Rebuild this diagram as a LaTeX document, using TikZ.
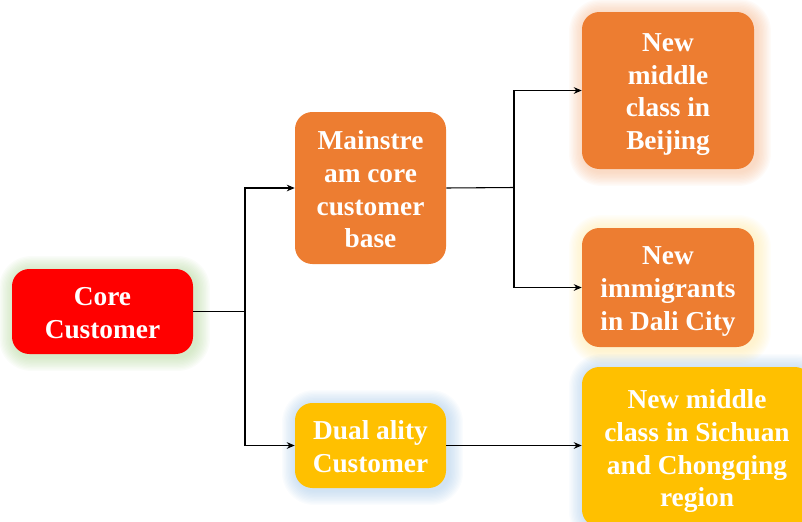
\documentclass[tikz,border=0pt]{standalone}
\usepackage{fontspec}
\setmainfont{Liberation Serif}
\usetikzlibrary{arrows.meta,backgrounds}
\definecolor{boxred}{HTML}{FF0000}
\definecolor{boxorange}{HTML}{ED7D31}
\definecolor{boxyellow}{HTML}{FFC000}
\definecolor{glowgreen}{HTML}{A9D18E}
\definecolor{glowblue}{HTML}{9DC3E6}
\definecolor{gloworange}{HTML}{F4B183}
\definecolor{glowyellow}{HTML}{FFE699}
\tikzset{
  x=0.75pt, y=-0.75pt,
  card/.style={rounded corners=13pt, inner sep=0pt},
  cardtext/.style={inner sep=0pt, align=center, text=white,
    font=\fontsize{20.5}{24.5}\selectfont\bfseries,
    % fixed invisible top and bottom struts keep every text block
    % placed the same way, whatever letters it holds
    execute at begin node=\rule{0pt}{25.3pt},
    execute at end node=\rule[-5pt]{0pt}{5pt}},
  link/.style={draw=black, line width=0.8pt},
  arr/.style={link, -{Stealth[length=6pt,width=5pt]}}
}
% text of a box, set a little below its centre
\newcommand{\cardlabel}[2]{%
  \node[cardtext] (#1-text) at ([yshift=-3.4pt]#1.center) {#2};%
}
% soft halo around a named box
\newcommand{\halo}[2]{%
  \foreach \g in {1,...,11}{%
    \fill[#2, opacity=0.055, rounded corners={13pt+\g pt}]
      ([shift={(-\g pt+1.5pt,-\g pt-1.5pt)}]#1.south west) rectangle
      ([shift={(\g pt+1.5pt,\g pt-1.5pt)}]#1.north east);
  }%
}
\begin{document}
\begin{tikzpicture}
\useasboundingbox (0,0) rectangle (802,521);
\clip (0,0) rectangle (802,521);

% boxes
\node[card, fill=boxred, minimum width=135.75pt, minimum height=63.75pt]
  (core) at (102.5,311.5) {};
\node[card, fill=boxorange, minimum width=113.25pt, minimum height=114pt]
  (main) at (370.5,188) {};
\node[card, fill=boxyellow, minimum width=113.25pt, minimum height=63.75pt]
  (dual) at (370.5,445.5) {};
\node[card, fill=boxorange, minimum width=129pt, minimum height=117.75pt]
  (beij) at (668,90.5) {};
\node[card, fill=boxorange, minimum width=129pt, minimum height=89.25pt]
  (dali) at (668,287.5) {};
\node[card, fill=boxyellow, minimum width=172.5pt, minimum height=120pt]
  (sich) at (697,447) {};

% texts
\cardlabel{core}{Core\\Customer}
\cardlabel{main}{Mainstre\\am core\\customer\\base}
\cardlabel{dual}{Dual ality\\Customer}
\cardlabel{beij}{New\\middle\\class in\\Beijing}
\cardlabel{dali}{New\\immigrants\\in Dali City}
\cardlabel{sich}{New middle\\class in Sichuan\\and Chongqing\\region}

% halos behind the boxes
\begin{pgfonlayer}{background}
  \halo{core}{glowgreen}
  \halo{dual}{glowblue}
  \halo{beij}{gloworange}
  \halo{dali}{glowyellow}
  \halo{sich}{glowblue}
\end{pgfonlayer}

% junctions
\coordinate (j1) at (245,311.5);
\coordinate (j2) at (514,187.5);

% connectors
\draw[link] (core.east) -- (j1);
\draw[arr] (j1) |- (main.west);
\draw[arr] (j1) |- (dual.west);
\draw[link] (main.east) -- (j2);
\draw[arr] (j2) |- (beij.west);
\draw[arr] (j2) |- (dali.west);
\draw[arr] (dual.east) -- (dual.east -| sich.west);
\end{tikzpicture}
\end{document}
